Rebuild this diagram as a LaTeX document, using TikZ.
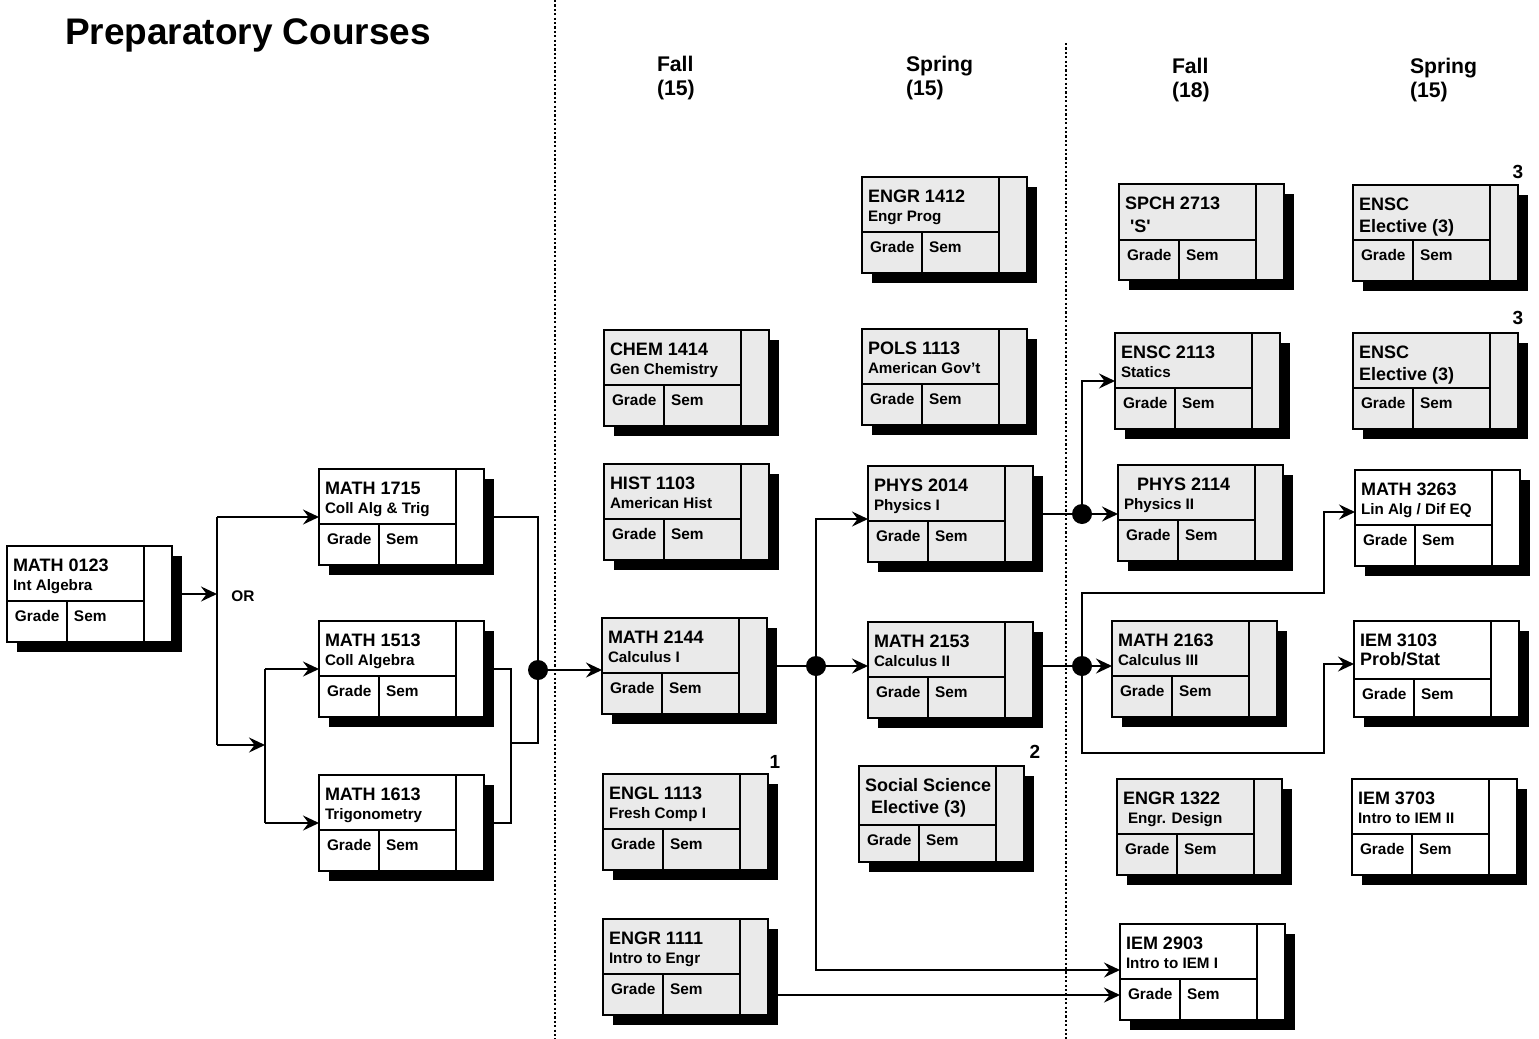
\documentclass[tikz,border=0pt]{standalone}
\usepackage{fontspec}
\setmainfont{Liberation Sans}
\usetikzlibrary{arrows.meta,calc}
\definecolor{boxgray}{RGB}{234,234,234}
\newcommand\tfont{\fontsize{9}{10}\selectfont\bfseries}
\newcommand\sfontx{\fontsize{7.6}{9}\selectfont\bfseries}
\newcommand\gfont{\fontsize{7.7}{9}\selectfont\bfseries}
\newcommand\hfont{\fontsize{10.6}{12}\selectfont\bfseries}
\tikzset{
  course/.style={draw, line width=1.2pt, minimum width=82.5pt, minimum height=48pt,
                 anchor=north west, inner sep=0pt, outer sep=0pt},
  divider/.style={line width=1.2pt},
  lbl/.style={anchor=base west, inner sep=0pt, outer sep=0pt},
  conn/.style={line width=1.1pt},
  arr/.style={line width=1.1pt, -{Stealth[length=8pt,width=7.5pt,inset=2.8pt]}},
  jdot/.style={circle, fill=black, minimum size=10pt, inner sep=0pt, outer sep=0pt},
  dotline/.style={line width=1.3pt, dash pattern=on 1.1pt off 1.1pt},
  note/.style={inner sep=0pt, font=\fontsize{9.5}{11}\selectfont\bfseries},
}
% name, X, Y, fill, title-divider, line1, line2, line2 baseline
\newcommand\crs[8]{%
  \fill ({#2+10},{#3+10}) rectangle ({#2+175},{#3+106});
  \node[course, fill=#4] (#1) at (#2,#3) {};
  \draw[divider] ({#2+137},{#3}) -- ({#2+137},{#3+96});
  \draw[divider] ({#2},{#3+#5}) -- ({#2+137},{#3+#5});
  \draw[divider] ({#2+60},{#3+#5}) -- ({#2+60},{#3+96});
  \node[lbl] (#1-t1) at ({#2+6},{#3+25}) {\tfont #6};
  \node[lbl] (#1-t2) at ({#2+6},{#3+#8}) {\sfontx #7};
  \node[lbl] (#1-gr) at ({#2+8},{#3+#5+20}) {\gfont Grade};
  \node[lbl] (#1-se) at ({#2+67},{#3+#5+20}) {\gfont Sem};
}
\begin{document}
\begin{tikzpicture}[x=0.5pt, y=-0.5pt]
\fill[white] (0,0) rectangle (1539,1039);
\useasboundingbox (0,0) rectangle (1539,1039);

% title and headers
\node[lbl] (ttl) at (65,44) {\fontsize{18.5}{22}\selectfont\bfseries Preparatory Courses};
\node[lbl] (h1a) at (657,71) {\hfont Fall};
\node[lbl] (h1b) at (657,95) {\hfont (15)};
\node[lbl] (h2a) at (906,71) {\hfont Spring};
\node[lbl] (h2b) at (906,95) {\hfont (15)};
\node[lbl] (h3a) at (1172,73) {\hfont Fall};
\node[lbl] (h3b) at (1172,97) {\hfont (18)};
\node[lbl] (h4a) at (1410,73) {\hfont Spring};
\node[lbl] (h4b) at (1410,97) {\hfont (15)};

% dotted separators
\draw[dotline] (555,0) -- (555,1039);
\draw[dotline] (1066,43) -- (1066,1039);

% boxes
\crs{m0123}{7}{546}{white}{55}{MATH 0123}{Int Algebra}{44}
\crs{m1715}{319}{469}{white}{55}{MATH 1715}{Coll Alg \& Trig}{44}
\crs{m1513}{319}{621}{white}{55}{MATH 1513}{Coll Algebra}{44}
\crs{m1613}{319}{775}{white}{55}{MATH 1613}{Trigonometry}{44}

\crs{c1414}{604}{330}{boxgray}{55}{CHEM 1414}{Gen Chemistry}{44}
\crs{h1103}{604}{464}{boxgray}{55}{HIST 1103}{American Hist}{44}
\crs{m2144}{602}{618}{boxgray}{55}{MATH 2144}{Calculus I}{44}
\crs{e1113}{603}{774}{boxgray}{55}{ENGL 1113}{Fresh Comp I}{44}
\crs{e1111}{603}{919}{boxgray}{55}{ENGR 1111}{Intro to Engr}{44}

\crs{e1412}{862}{177}{boxgray}{55}{ENGR 1412}{Engr Prog}{44}
\crs{p1113}{862}{329}{boxgray}{55}{POLS 1113}{American Gov’t}{44}
\crs{p2014}{868}{466}{boxgray}{55}{PHYS 2014}{Physics I}{44}
\crs{m2153}{868}{622}{boxgray}{55}{MATH 2153}{Calculus II}{44}
\crs{ssel}{859}{766}{boxgray}{59}{Social Science}{\tfont\hspace*{3pt}Elective (3)}{47}

\crs{s2713}{1119}{184}{boxgray}{56}{SPCH 2713}{\tfont\hspace*{2.5pt}\textquotesingle S\textquotesingle}{48}
\crs{e2113}{1115}{333}{boxgray}{55}{ENSC 2113}{Statics}{44}
\crs{p2114}{1118}{465}{boxgray}{55}{\hspace*{6.5pt}PHYS 2114}{Physics II}{44}
\crs{m2163}{1112}{621}{boxgray}{55}{MATH 2163}{Calculus III}{44}
\crs{e1322}{1117}{779}{boxgray}{55}{ENGR 1322}{\hspace*{2.5pt}Engr. Design}{44}
\crs{i2903}{1120}{924}{white}{55}{IEM 2903}{Intro to IEM I}{44}

\crs{ens1}{1353}{185}{boxgray}{55}{ENSC}{\tfont Elective (3)}{47}
\crs{ens2}{1353}{333}{boxgray}{55}{ENSC}{\tfont Elective (3)}{47}
\crs{m3263}{1355}{470}{white}{55}{MATH 3263}{Lin Alg / Dif EQ}{44}
\crs{i3103}{1354}{621}{white}{58}{IEM 3103}{\tfont Prob/Stat}{44}
\crs{i3703}{1352}{779}{white}{55}{IEM 3703}{Intro to IEM II}{44}

% notes
\node[note] (n1) at (775,762) {1};
\node[note] (n2) at (1035,752) {2};
\node[note] (n3a) at (1518,172) {3};
\node[note] (n3b) at (1518,318) {3};
\node[inner sep=0pt, font=\gfont] (orl) at (243,596) {OR};

% helper coordinates
\coordinate (x217) at (217,0);
\coordinate (x265) at (265,0);
\coordinate (x511) at (511,0);
\coordinate (x538) at (538,0);
\coordinate (x816) at (816,0);
\coordinate (x1082) at (1082,0);
\coordinate (x1324) at (1324,0);
\coordinate (y745) at (0,745);
\coordinate (y743) at (0,743);
\coordinate (y670) at (0,670);
\coordinate (y666) at (0,666);
\coordinate (y519) at (0,519);
\coordinate (y970) at (0,970);
\coordinate (y995) at (0,995);
\coordinate (y593) at (0,593);
\coordinate (y753) at (0,753);
\coordinate (y512) at (0,512);
\coordinate (y664) at (0,664);

% preparatory connectors
\draw[arr] (m0123.east) -- (m0123.east -| x217);
\draw[conn] (m1715.west -| x217) -- (y745 -| x217);
\draw[arr] (m1715.west -| x217) -- (m1715.west);
\draw[arr] (y745 -| x217) -- (y745 -| x265);
\draw[conn] (m1513.west -| x265) -- (m1613.west -| x265);
\draw[arr] (m1513.west -| x265) -- (m1513.west);
\draw[arr] (m1613.west -| x265) -- (m1613.west);

\draw[conn] (m1715.east) -- (m1715.east -| x538) -- (y743 -| x538) -- (y743 -| x511);
\draw[conn] (m1513.east) -- (m1513.east -| x511) -- (m1613.east -| x511) -- (m1613.east);
\node[jdot] (dL) at (y670 -| x538) {};
\draw[arr] (dL) -- (y670 -| m2144.west);

% calculus I fan-out
\node[jdot] (d2) at (y666 -| x816) {};
\draw[conn] (y666 -| m2144.east) -- (d2);
\draw[arr] (d2) -- (y666 -| m2153.west);
\draw[arr] (d2.center) -- (y519 -| x816) -- (y519 -| p2014.west);
\draw[arr] (d2.center) -- (y970 -| x816) -- (y970 -| i2903.west);
\draw[arr] (y995 -| e1111.east) -- (y995 -| i2903.west);

% physics I
\node[jdot] (d3) at (p2014.east -| x1082) {};
\draw[conn] (p2014.east) -- (d3);
\draw[arr] (d3) -- (d3 -| p2114.west);
\draw[arr] (d3.center) -- (e2113.west -| x1082) -- (e2113.west);

% calculus II
\node[jdot] (d4) at (y666 -| x1082) {};
\draw[conn] (y666 -| m2153.east) -- (d4);
\draw[arr] (d4) -- (y666 -| m2163.west);
\draw[arr] (d4.center) -- (y593 -| x1082) -- (y593 -| x1324) -- (y512 -| x1324) -- (y512 -| m3263.west);
\draw[arr] (d4.center) -- (y753 -| x1082) -- (y753 -| x1324) -- (y664 -| x1324) -- (y664 -| i3103.west);
\end{tikzpicture}
\end{document}
